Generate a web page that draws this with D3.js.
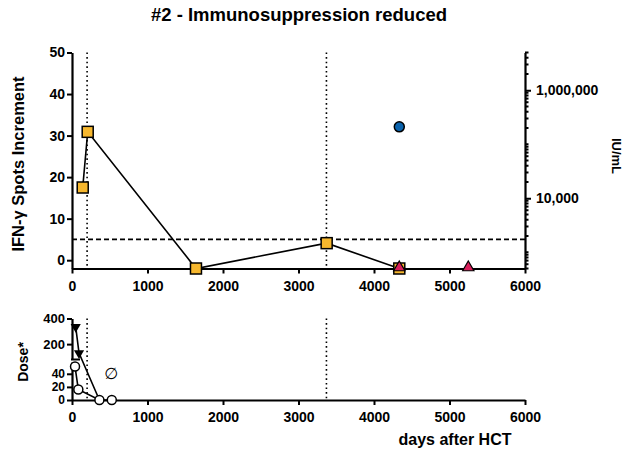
<!DOCTYPE html>
<html>
<head>
<meta charset="utf-8">
<script src="https://cdn.jsdelivr.net/npm/d3@7"></script>
<style>
  body { margin: 0; background: #fff; }
  text { font-family: "Liberation Sans", Arial, sans-serif; font-weight: bold; fill: #000; }
</style>
</head>
<body>
<div id="chart"></div>
<script>
//data
const xTicks = [0, 1000, 2000, 3000, 4000, 5000, 6000];
const spotTicks = [0, 10, 20, 30, 40, 50];
const iuTicks = [10000, 1000000];
const doseTopTicks = [200, 400];
const doseBottomTicks = [0, 20, 40];

//IFN-g spots (squares, connected)
const spotDays = [142, 208, 1642, 3373, 4335];
const spotValues = [17.5, 30.9, -2, 4.1, -2];
//viral load (blue circle, right axis)
const loadDays = [4335];
const loadValues = [210000];
//red triangles
const triDays = [4335, 5249];
const triValues = [-2, -2];
//dose panel
const doseTriDays = [49, 93, 363];
const doseTriValues = [335, 130, 0];
const doseCircDays = [40, 84, 363, 527];
const doseCircValues = [51, 16, 0, 0];
//reference lines
const eventDays = [200, 3370];
const spotThreshold = 5;

const width = 631, height = 452;
const svg = d3.select("#chart").append("svg")
              .attr("width", width)
              .attr("height", height);

//scales
const x = d3.scaleLinear().domain([0, 6000]).range([72, 525]);
const ySpots = d3.scaleLinear().domain([-2, 50]).range([268.5, 52.5]);
const yIU = d3.scaleLog().domain([500, 5000000]).range([268.5, 52.5]);
const yDoseTop = d3.scaleLinear().domain([80, 400]).range([359.5, 318.5]);
const yDoseBottom = d3.scaleLinear().domain([0, 58]).range([400, 362]);
function yDose(v) { return v >= 80 ? yDoseTop(v) : yDoseBottom(v); }

//title
svg.append("text")
   .attr("x", 299).attr("y", 21)
   .attr("text-anchor", "middle")
   .style("font-size", "18.5px")
   .text("#2 - Immunosuppression reduced");

////////////////// upper panel ////////////////////////////////////

//dotted event lines
svg.append("g").selectAll("line").data(eventDays).enter()
   .append("line")
   .attr("x1", d => x(d)).attr("x2", d => x(d))
   .attr("y1", 52.5).attr("y2", 268.5)
   .attr("stroke", "#000").attr("stroke-width", 1.6)
   .attr("stroke-dasharray", "1.6,3");

//threshold
svg.append("line")
   .attr("x1", x(0)).attr("x2", x(6000))
   .attr("y1", ySpots(spotThreshold)).attr("y2", ySpots(spotThreshold))
   .attr("stroke", "#000").attr("stroke-width", 1.6)
   .attr("stroke-dasharray", "5,3");

//axes
const axisStyle = (g, size) => {
  g.selectAll(".domain").attr("stroke-width", 2.2);
  g.selectAll(".tick line").attr("stroke-width", 2);
  g.selectAll(".tick text").style("font-size", (size || 14) + "px")
   .style("font-family", "'Liberation Sans', Arial, sans-serif").style("font-weight", "bold");
};

svg.append("g")
   .attr("transform", "translate(0,268.5)")
   .call(d3.axisBottom(x).tickValues(xTicks).tickSize(5).tickSizeOuter(0)
           .tickPadding(8).tickFormat(d3.format("d")))
   .call(axisStyle);

svg.append("g")
   .attr("transform", "translate(72,0)")
   .call(d3.axisLeft(ySpots).tickValues(spotTicks).tickSize(5).tickSizeOuter(0).tickPadding(2))
   .call(axisStyle);

//right log axis with minor ticks
const minorIU = [];
for (let e = 2; e <= 6; e++) {
  for (let k = 1; k <= 9; k++) {
    const v = k * Math.pow(10, e);
    if (v >= 500 && v <= 5000000 && iuTicks.indexOf(v) < 0) minorIU.push(v);
  }
}
const rightAxis = svg.append("g").attr("transform", "translate(525,0)");
rightAxis.call(d3.axisRight(yIU).tickValues(iuTicks).tickSize(6).tickSizeOuter(0)
                .tickPadding(5).tickFormat(d3.format(",")))
         .call(axisStyle);
rightAxis.selectAll(".minor").data(minorIU).enter()
         .append("line")
         .attr("x1", 0).attr("x2", 3.5)
         .attr("y1", d => yIU(d)).attr("y2", d => yIU(d))
         .attr("stroke", "#000").attr("stroke-width", 2);

//axis titles
svg.append("text")
   .attr("transform", "translate(24,164) rotate(-90)")
   .attr("text-anchor", "middle")
   .style("font-size", "16.5px")
   .text("IFN-\u03b3 Spots Increment");

svg.append("text")
   .attr("transform", "translate(612,156) rotate(90)")
   .attr("text-anchor", "middle")
   .style("font-size", "13px")
   .text("IU/mL");

//connecting line for spots
const spotPts = spotDays.map((d, i) => [x(d), ySpots(spotValues[i])]);
svg.append("path")
   .attr("d", d3.line()(spotPts))
   .attr("fill", "none").attr("stroke", "#000").attr("stroke-width", 1.6);

svg.append("g").selectAll("rect").data(spotPts).enter()
   .append("rect")
   .attr("x", d => d[0] - 5.5).attr("y", d => d[1] - 5.5)
   .attr("width", 11).attr("height", 11)
   .attr("fill", "#F6B72E").attr("stroke", "#000").attr("stroke-width", 1.5);

//viral load
svg.append("g").selectAll("circle").data(loadDays).enter()
   .append("circle")
   .attr("cx", d => x(d)).attr("cy", (d, i) => yIU(loadValues[i]))
   .attr("r", 5)
   .attr("fill", "#0B63AD").attr("stroke", "#000").attr("stroke-width", 1.5);

//red triangles
const triUp = d3.symbol().type(d3.symbolTriangle).size(55);
svg.append("g").selectAll("path").data(triDays).enter()
   .append("path")
   .attr("d", triUp)
   .attr("transform", (d, i) => `translate(${x(d)},${ySpots(triValues[i]) - 1})`)
   .attr("fill", "#D81E5B").attr("stroke", "#000").attr("stroke-width", 1.2);

////////////////// lower panel ////////////////////////////////////

svg.append("g").selectAll("line").data(eventDays).enter()
   .append("line")
   .attr("x1", d => x(d)).attr("x2", d => x(d))
   .attr("y1", 318.5).attr("y2", 400)
   .attr("stroke", "#000").attr("stroke-width", 1.6)
   .attr("stroke-dasharray", "1.6,3");

svg.append("g")
   .attr("transform", "translate(0,400)")
   .call(d3.axisBottom(x).tickValues(xTicks).tickSize(5).tickSizeOuter(0)
           .tickPadding(7.5).tickFormat(d3.format("d")))
   .call(axisStyle);

svg.append("g")
   .attr("transform", "translate(72,0)")
   .call(d3.axisLeft(yDoseTop).tickValues(doseTopTicks).tickSize(5).tickSizeOuter(0).tickPadding(2))
   .call(g => axisStyle(g, 13));

svg.append("g")
   .attr("transform", "translate(72,0)")
   .call(d3.axisLeft(yDoseBottom).tickValues(doseBottomTicks).tickSize(5).tickSizeOuter(0).tickPadding(2))
   .call(g => axisStyle(g, 12));

//break mark
svg.append("line")
   .attr("x1", 71).attr("x2", 80)
   .attr("y1", yDoseTop(80)).attr("y2", yDoseTop(80))
   .attr("stroke", "#000").attr("stroke-width", 2);

svg.append("text")
   .attr("transform", "translate(28,362) rotate(-90)")
   .attr("text-anchor", "middle")
   .style("font-size", "14px")
   .text("Dose*");

svg.append("text")
   .attr("x", 455).attr("y", 445)
   .attr("text-anchor", "middle")
   .style("font-size", "16px")
   .text("days after HCT");

//dose lines
const doseTriPts = doseTriDays.map((d, i) => [x(d), yDose(doseTriValues[i])]);
const doseCircPts = doseCircDays.map((d, i) => [x(d), yDose(doseCircValues[i])]);
svg.append("path")
   .attr("d", d3.line()(doseTriPts))
   .attr("fill", "none").attr("stroke", "#000").attr("stroke-width", 1.6);
svg.append("path")
   .attr("d", d3.line()(doseCircPts))
   .attr("fill", "none").attr("stroke", "#000").attr("stroke-width", 1.6);

//filled down triangles
const triDown = d3.symbol().type(d3.symbolTriangle).size(45);
svg.append("g").selectAll("path").data(doseTriPts.slice(0, 2)).enter()
   .append("path")
   .attr("d", triDown)
   .attr("transform", d => `translate(${d[0]},${d[1]}) rotate(180)`)
   .attr("fill", "#000");

//open circles
svg.append("g").selectAll("circle").data(doseCircPts).enter()
   .append("circle")
   .attr("cx", d => d[0]).attr("cy", d => d[1])
   .attr("r", 4.5)
   .attr("fill", "#fff").attr("stroke", "#000").attr("stroke-width", 1.5);

//"not given" mark
svg.append("text")
   .attr("x", x(520)).attr("y", yDoseBottom(40) + 5.5)
   .attr("text-anchor", "middle")
   .style("font-family", "'DejaVu Sans', sans-serif")
   .style("font-size", "16px").style("font-weight", "normal")
   .text("\u2205");
</script>
</body>
</html>
